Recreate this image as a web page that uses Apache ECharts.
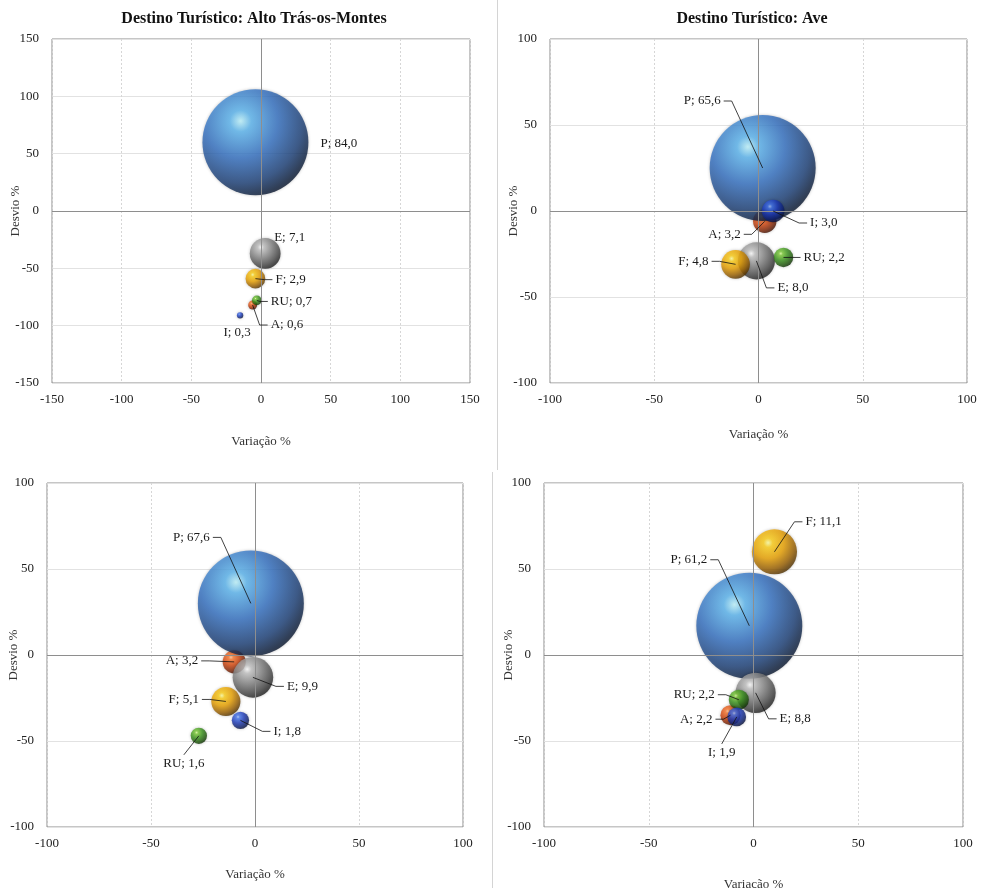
<!DOCTYPE html>
<html>
<head>
<meta charset="utf-8">
<script src="https://cdn.jsdelivr.net/npm/echarts@6/dist/echarts.min.js"></script>
<style>
html,body{margin:0;padding:0;background:#fff;}
#c{width:982px;height:888px;}
</style>
</head>
<body>
<div id="c"></div>
<script>
// ---- DATA ----
const categories = ['A', 'P', 'E', 'F', 'RU', 'I'];

const titles = ['Destino Turístico: Alto Trás-os-Montes', 'Destino Turístico: Ave', '', ''];
const xName = 'Variação %';
const yName = 'Desvio %';

// Panel 1: Alto Trás-os-Montes
const p1Variacao = [-6, -4, 3, -4, -3, -15];
const p1Desvio   = [-82, 60, -37, -59, -78, -91];
const p1Peso     = [0.6, 84.0, 7.1, 2.9, 0.7, 0.3];

// Panel 2: Ave
const p2Variacao = [3, 2, -1, -11, 12, 7];
const p2Desvio   = [-6, 25, -29, -31, -27, 0];
const p2Peso     = [3.2, 65.6, 8.0, 4.8, 2.2, 3.0];

// Panel 3
const p3Variacao = [-10, -2, -1, -14, -27, -7];
const p3Desvio   = [-4, 30, -13, -27, -47, -38];
const p3Peso     = [3.2, 67.6, 9.9, 5.1, 1.6, 1.8];

// Panel 4
const p4Variacao = [-11, -2, 1, 10, -7, -8];
const p4Desvio   = [-35, 17, -22, 60, -26, -36];
const p4Peso     = [2.2, 61.2, 8.8, 11.1, 2.2, 1.9];

const axisRanges = [150, 100, 100, 100];
const tickStep = 50;

// ---- STYLE / LAYOUT ----
const panels = [
  {x: p1Variacao, y: p1Desvio, s: p1Peso},
  {x: p2Variacao, y: p2Desvio, s: p2Peso},
  {x: p3Variacao, y: p3Desvio, s: p3Peso},
  {x: p4Variacao, y: p4Desvio, s: p4Peso}
];
const grids = [
  {left: 52, top: 39, width: 418, height: 344},
  {left: 550, top: 39, width: 417, height: 344},
  {left: 47, top: 483, width: 416, height: 344},
  {left: 544, top: 483, width: 419, height: 344}
];
const titlePos = [[249, 6], [747, 6]];
const yNameGap = [30, 30, 27, 29];
const xNameGap = [52, 45, 41, 51];

// label placement: [dx, dy, align, showLine] relative to bubble centre (px)
const labelPlace = [
  { A: [18, 20, 'left', true], P: [65, 1, 'left', false], E: [9, -16, 'left', false],
    F: [20, 1, 'left', true], RU: [14, 1, 'left', true], I: [-3, 17, 'center', false] },
  { A: [-24, 13, 'right', true], P: [-42, -67, 'right', true], E: [21, 27, 'left', true],
    F: [-27, -3, 'right', true], RU: [20, 0, 'left', true], I: [37, 12, 'left', true] },
  { A: [-36, -1, 'right', true], P: [-41, -66, 'right', true], E: [34, 9, 'left', true],
    F: [-27, -2, 'right', true], RU: [-15, 28, 'center', true], I: [33, 11, 'left', true] },
  { A: [-18, 4, 'right', true], P: [-42, -66, 'right', true], E: [24, 26, 'left', true],
    F: [31, -30, 'left', true], RU: [-24, -5, 'right', true], I: [-15, 36, 'center', true] }
];

function sphere(stops) {
  return {type: 'radial', x: 0.36, y: 0.3, r: 0.78,
    colorStops: stops.map((c, i) => ({offset: [0, 0.13, 0.45, 0.75, 1][i], color: c}))};
}
const bubbleColors = {
  P:  sphere(['#c0f6ff', '#5cb6f0', '#3370c2', '#1c4078', '#040c1c']),
  E:  sphere(['#ffffff', '#c4c4c4', '#858585', '#4a4a4a', '#111111']),
  F:  sphere(['#ffffa0', '#ffd018', '#eba200', '#9a6000', '#3a2200']),
  RU: sphere(['#dcffa0', '#7ccc38', '#3a941c', '#205a0c', '#081e02']),
  A:  sphere(['#ffc498', '#ff7a30', '#d4460e', '#822606', '#2a0800']),
  I:  sphere(['#a8c4ff', '#4676ee', '#1e3cbc', '#0e2272', '#030820'])
};
const MAXD = 106;
const FONT = 'Liberation Serif';

function fmt(v) { return v.toFixed(1).replace('.', ','); }

const option = {
  animation: false,
  backgroundColor: '#fff',
  title: titles.map((t, i) => t ? {
    text: t, left: titlePos[i][0], top: titlePos[i][1], textAlign: 'center',
    textStyle: {fontFamily: FONT, fontWeight: 'bold', fontSize: 16, color: '#111'}
  } : null).filter(Boolean),
  graphic: [
    {type: 'line', shape: {x1: 497.5, y1: 0, x2: 497.5, y2: 470}, style: {stroke: '#d4d4d4', lineWidth: 1}},
    {type: 'line', shape: {x1: 492.5, y1: 472, x2: 492.5, y2: 888}, style: {stroke: '#d4d4d4', lineWidth: 1}}
  ],
  grid: grids.map(g => Object.assign({show: true, borderColor: '#8c8c8c', borderWidth: 1,
    containLabel: false, outerBoundsMode: 'none'}, g)),
  xAxis: grids.map((g, i) => ({
    gridIndex: i, type: 'value', min: -axisRanges[i], max: axisRanges[i], interval: tickStep,
    name: xName, nameLocation: 'middle', nameGap: xNameGap[i],
    nameTextStyle: {fontFamily: FONT, fontSize: 13, color: '#333'},
    axisLine: {show: false}, axisTick: {show: false},
    axisLabel: {fontFamily: FONT, fontSize: 13, color: '#222', margin: 10},
    splitLine: {show: true, lineStyle: {color: '#d6d6d6', type: [2, 2]}}
  })),
  yAxis: grids.map((g, i) => ({
    gridIndex: i, type: 'value', min: -axisRanges[i], max: axisRanges[i], interval: tickStep,
    name: yName, nameLocation: 'middle', nameGap: yNameGap[i], nameMoveOverlap: false,
    nameTextStyle: {fontFamily: FONT, fontSize: 13, color: '#333'},
    axisLine: {show: false}, axisTick: {show: false},
    axisLabel: {fontFamily: FONT, fontSize: 13, color: '#222', margin: 13},
    splitLine: {show: true, lineStyle: {color: '#e2e2e2', type: 'solid'}}
  })),
  series: []
};

panels.forEach((p, i) => {
  const vmax = Math.max.apply(null, p.s);
  const data = categories.map((c, k) => ({
    value: [p.x[k], p.y[k], p.s[k], k],
    itemStyle: {color: bubbleColors[c], shadowBlur: 3, shadowColor: 'rgba(0,0,0,0.3)'}
  }));
  option.series.push({
    type: 'scatter', xAxisIndex: i, yAxisIndex: i,
    symbol: 'circle',
    symbolSize: v => MAXD * Math.sqrt(v[2] / vmax),
    data: data,
    markLine: {
      silent: true, symbol: 'none', label: {show: false},
      lineStyle: {color: '#8e8e8e', type: 'solid', width: 1},
      data: [{xAxis: 0}, {yAxis: 0}]
    },
    z: 2
  });
  option.series.push({
    type: 'custom', xAxisIndex: i, yAxisIndex: i, z: 5, silent: true,
    data: categories.map((c, k) => [p.x[k], p.y[k], p.s[k], k]),
    renderItem: function (params, api) {
      const k = api.value(3);
      const cat = categories[k];
      const pl = labelPlace[i][cat];
      const pt = api.coord([api.value(0), api.value(1)]);
      const lx = pt[0] + pl[0], ly = pt[1] + pl[1];
      const children = [];
      if (pl[3]) {
        let pts;
        if (pl[2] === 'left') pts = [[pt[0], pt[1]], [lx - 11, ly], [lx - 3, ly]];
        else if (pl[2] === 'right') pts = [[pt[0], pt[1]], [lx + 11, ly], [lx + 3, ly]];
        else pts = [[pt[0], pt[1]], [lx, ly - 9]];
        children.push({type: 'polyline', shape: {points: pts},
          style: {stroke: '#111', lineWidth: 0.8, fill: null}});
      }
      children.push({type: 'text', x: lx, y: ly,
        style: {text: cat + '; ' + fmt(api.value(2)), fontFamily: FONT, fontSize: 13,
          fill: '#1a1a1a', align: pl[2], verticalAlign: 'middle'}});
      return {type: 'group', children: children};
    }
  });
});

const chart = echarts.init(document.getElementById('c'));
chart.setOption(option);
</script>
</body>
</html>
